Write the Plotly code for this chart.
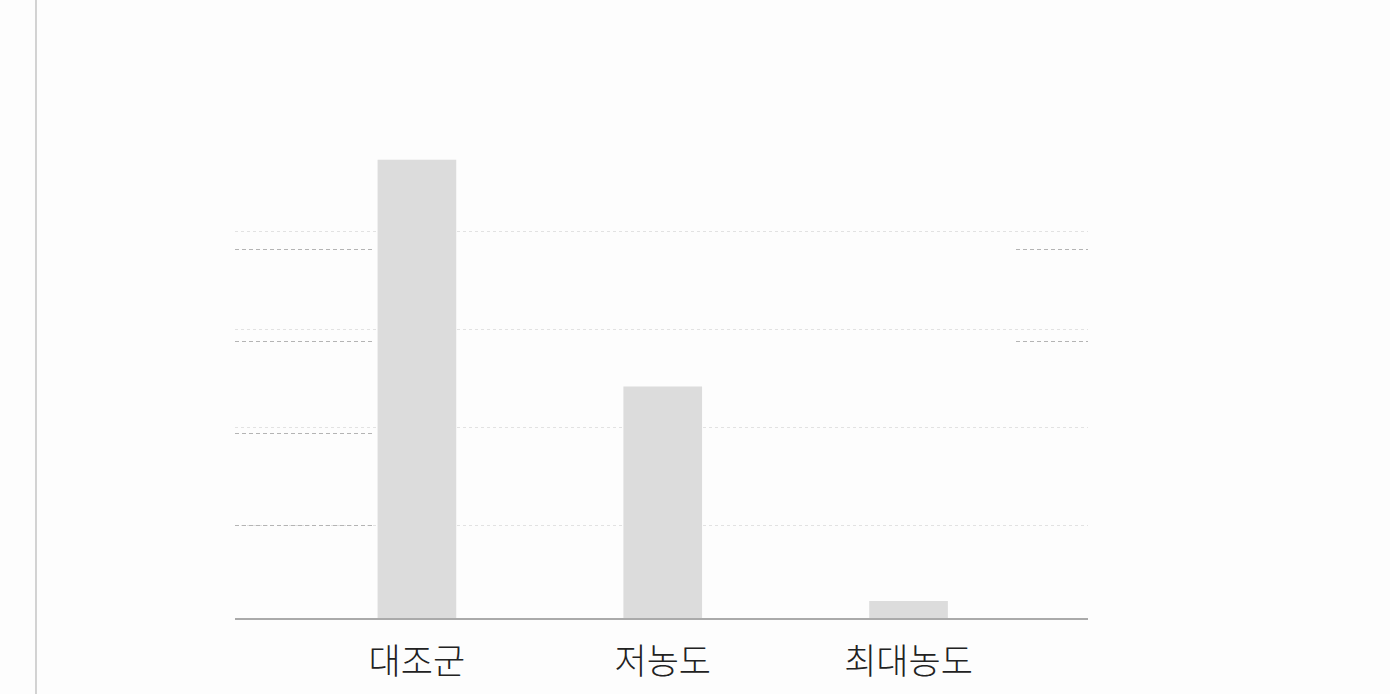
"""
Bar chart: 대조군 / 저농도 / 최대농도
"""

import plotly.graph_objects as go

categories = ["대조군", "저농도", "최대농도"]
values = [99.6, 50.3, 3.7]

bar_color = "#dcdcdc"
y_max = 103.9

fig = go.Figure()

fig.add_trace(
    go.Bar(
        x=categories,
        y=values,
        marker=dict(color=bar_color, line=dict(width=0)),
        hoverinfo="x+y",
    )
)

# empty traces so the helper subplots (partial dashed grids) get drawn
fig.add_trace(go.Scatter(x=[], y=[], xaxis="x2", yaxis="y3", showlegend=False))
fig.add_trace(go.Scatter(x=[], y=[], xaxis="x3", yaxis="y4", showlegend=False))

grid_dash = dict(
    showgrid=True,
    gridcolor="#b4b4b4",
    griddash="4px,3px",
    gridwidth=1,
    showticklabels=False,
    zeroline=False,
    showline=False,
    automargin=False,
    range=[0, y_max],
)

fig.update_layout(
    width=1390,
    height=694,
    margin=dict(l=235, r=302, t=140, b=76),
    paper_bgcolor="#fdfdfd",
    plot_bgcolor="rgba(0,0,0,0)",
    showlegend=False,
    bargap=0.68,
    font=dict(family="Noto Sans CJK KR", color="#222222"),
    xaxis=dict(
        range=[-0.74, 2.73],
        showline=True,
        linecolor="#aaaaaa",
        linewidth=1.5,
        ticks="",
        showgrid=False,
        automargin=False,
        ticklabelstandoff=12,
        tickfont=dict(size=35, family="Noto Sans CJK KR", weight=300, color="#222222"),
    ),
    yaxis=dict(
        range=[0, y_max],
        showgrid=False,
        zeroline=False,
        showticklabels=False,
        automargin=False,
    ),
    # faint dotted grid over the whole plot width
    yaxis2=dict(
        overlaying="y",
        range=[0, y_max],
        tickvals=[20.2, 41.5, 62.8, 84.1],
        showgrid=True,
        gridcolor="#e2e2e2",
        griddash="dot",
        gridwidth=1,
        showticklabels=False,
        zeroline=False,
        automargin=False,
        layer="below traces",
    ),
    xaxis2=dict(domain=[0, 0.164], anchor="y3", visible=False, showgrid=False),
    yaxis3=dict(anchor="x2", tickvals=[20, 40, 60, 80], **grid_dash),
    xaxis3=dict(domain=[0.916, 1], anchor="y4", visible=False, showgrid=False),
    yaxis4=dict(anchor="x3", tickvals=[60, 80], **grid_dash),
    shapes=[
        dict(
            type="line",
            xref="paper",
            yref="paper",
            x0=-0.2333,
            x1=-0.2333,
            y0=-0.16,
            y1=1.3,
            line=dict(color="#c4c4c4", width=1.5),
        )
    ],
)

# attach an invisible trace to yaxis2 so its grid renders
fig.add_trace(go.Scatter(x=[], y=[], yaxis="y2", showlegend=False))

fig.write_html(
    "out.html",
    config={"displayModeBar": False},
    post_script="document.body.style.margin='0px';",
)
